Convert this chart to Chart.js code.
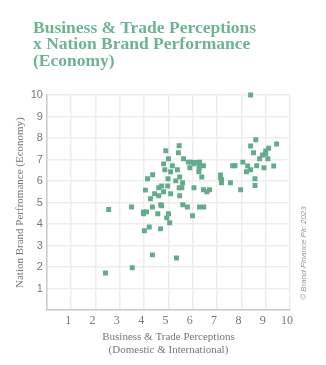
<!DOCTYPE html>
<html>
<head>
<meta charset="utf-8">
<script src="https://cdn.jsdelivr.net/npm/chart.js@4.4.0/dist/chart.umd.min.js"></script>
<style>
  html, body { margin: 0; padding: 0; background: #fff; }
  #wrap { position: relative; width: 326px; height: 365px; }
  #title {
    position: absolute; left: 33px; top: 19px;
    font: bold 17.5px "Liberation Serif", serif;
    line-height: 16.3px; color: #6fb394;
  }
  canvas { position: absolute; left: 0; top: 0; }
</style>
</head>
<body>
<div id="wrap">
  <canvas id="scatter" width="326" height="365"></canvas>
  <div id="title">Business &amp; Trade Perceptions<br>x Nation Brand Performance<br>(Economy)</div>
</div>
<script>
// Business & Trade Perceptions score for each nation
const tradePerceptions = [
  2.41, 2.54, 3.48, 3.51, 3.97, 4.10, 3.97, 4.05, 4.01, 4.21,
  4.26, 4.34, 4.34, 4.43, 4.56, 4.60, 4.60, 4.68, 4.72, 4.67,
  4.72, 4.80, 4.97, 5.00, 4.93, 5.05, 5.09, 5.30, 5.33, 5.44,
  5.55, 5.46, 5.58, 5.59, 5.78, 5.99, 6.05, 6.28, 6.45, 6.44,
  6.69, 6.58, 4.14, 4.35, 4.80, 4.85, 4.89, 5.00, 4.98, 5.09,
  5.16, 5.37, 5.44, 5.41, 5.46, 5.62, 5.82, 5.93, 5.88, 6.11,
  6.05, 6.28, 6.28, 6.44, 6.26, 6.25, 6.37, 7.14, 7.14, 7.18,
  7.18, 7.55, 7.64, 7.74, 7.97, 8.06, 8.26, 8.21, 8.38, 8.38,
  8.38, 8.50, 8.59, 8.63, 8.56, 8.56, 8.75, 8.87, 9.00, 9.00,
  9.09, 9.12, 8.93, 9.33, 9.45
];

// Nation Brand Performance (Economy) score, same order
const brandEconomy = [
  1.73, 4.68, 4.80, 1.97, 4.57, 4.57, 4.48, 5.58, 3.69, 3.87,
  5.18, 4.80, 2.57, 5.41, 4.48, 5.32, 5.69, 4.90, 4.85, 3.78,
  5.77, 5.50, 5.77, 4.48, 4.29, 4.06, 5.41, 6.01, 2.43, 5.69,
  5.69, 5.32, 5.92, 4.90, 4.80, 4.39, 5.69, 4.80, 4.80, 5.60,
  5.60, 5.50, 6.11, 6.29, 6.80, 6.53, 7.41, 7.04, 6.11, 6.43,
  6.71, 6.53, 7.64, 7.32, 6.19, 7.04, 6.88, 6.88, 6.62, 6.87,
  6.80, 6.88, 6.71, 6.71, 6.59, 6.43, 6.19, 6.28, 6.15, 6.08,
  5.92, 5.92, 6.71, 6.71, 5.60, 6.88, 6.70, 6.43, 6.53, 7.63,
  10.0, 7.32, 7.92, 6.71, 6.11, 5.79, 7.04, 7.21, 7.40, 7.27,
  7.04, 7.53, 6.62, 6.70, 7.72
];

const axisTicks = [1, 2, 3, 4, 5, 6, 7, 8, 9, 10];

const points = tradePerceptions.map((x, i) => ({ x: x, y: brandEconomy[i] }));

const grey = '#777777';
const gridColor = '#ededed';

// vertical copyright note on the right side
const copyrightNote = {
  id: 'copyrightNote',
  afterDraw(chart) {
    const ctx = chart.ctx;
    ctx.save();
    ctx.translate(304, 253);
    ctx.rotate(-Math.PI / 2);
    ctx.font = 'italic 8px "Liberation Sans", sans-serif';
    ctx.fillStyle = '#9a9a9a';
    ctx.textAlign = 'center';
    ctx.textBaseline = 'middle';
    ctx.fillText('\u00A9 Brand Finance Plc 2023', 0, 0);
    ctx.restore();
  }
};

new Chart(document.getElementById('scatter'), {
  type: 'scatter',
  data: {
    datasets: [{
      data: points,
      pointStyle: 'rect',
      pointRadius: 3.5,
      pointHoverRadius: 3.5,
      pointBorderWidth: 0,
      backgroundColor: '#64ab8c',
      borderColor: '#64ab8c',
      clip: 6
    }]
  },
  options: {
    responsive: false,
    animation: false,
    layout: { padding: { top: 95, right: 36, bottom: 8, left: 9.5 } },
    plugins: {
      legend: { display: false },
      tooltip: { enabled: false }
    },
    scales: {
      x: {
        type: 'linear',
        min: 0,
        max: 10,
        afterBuildTicks: (scale) => {
          scale.ticks = [0].concat(axisTicks).map(v => ({ value: v }));
        },
        ticks: {
          color: grey,
          padding: 3,
          labelOffset: -3,
          font: { family: '"Liberation Serif", serif', size: 12 },
          callback: (v) => (v === 0 ? '' : v)
        },
        grid: { color: gridColor, lineWidth: 1.5, drawTicks: false },
        border: { color: '#cccccc', width: 1.5 },
        title: {
          display: true,
          text: ['Business & Trade Perceptions', '(Domestic & International)'],
          color: grey,
          font: { family: '"Liberation Serif", serif', size: 11, lineHeight: 1.2 },
          padding: { top: 0, bottom: 0 }
        }
      },
      y: {
        type: 'linear',
        min: 0,
        max: 10,
        afterBuildTicks: (scale) => {
          scale.ticks = [0].concat(axisTicks).map(v => ({ value: v }));
        },
        ticks: {
          color: grey,
          padding: 4,
          font: { family: '"Liberation Sans", sans-serif', size: 11 },
          callback: (v) => (v === 0 ? '' : v)
        },
        grid: { color: gridColor, lineWidth: 1.5, drawTicks: false },
        border: { color: '#cccccc', width: 1.5 },
        title: {
          display: true,
          text: 'Nation Brand Perfromance (Economy)',
          color: grey,
          font: { family: '"Liberation Serif", serif', size: 11 },
          padding: { top: 4, bottom: 0 }
        }
      }
    }
  },
  plugins: [copyrightNote]
});
</script>
</body>
</html>
